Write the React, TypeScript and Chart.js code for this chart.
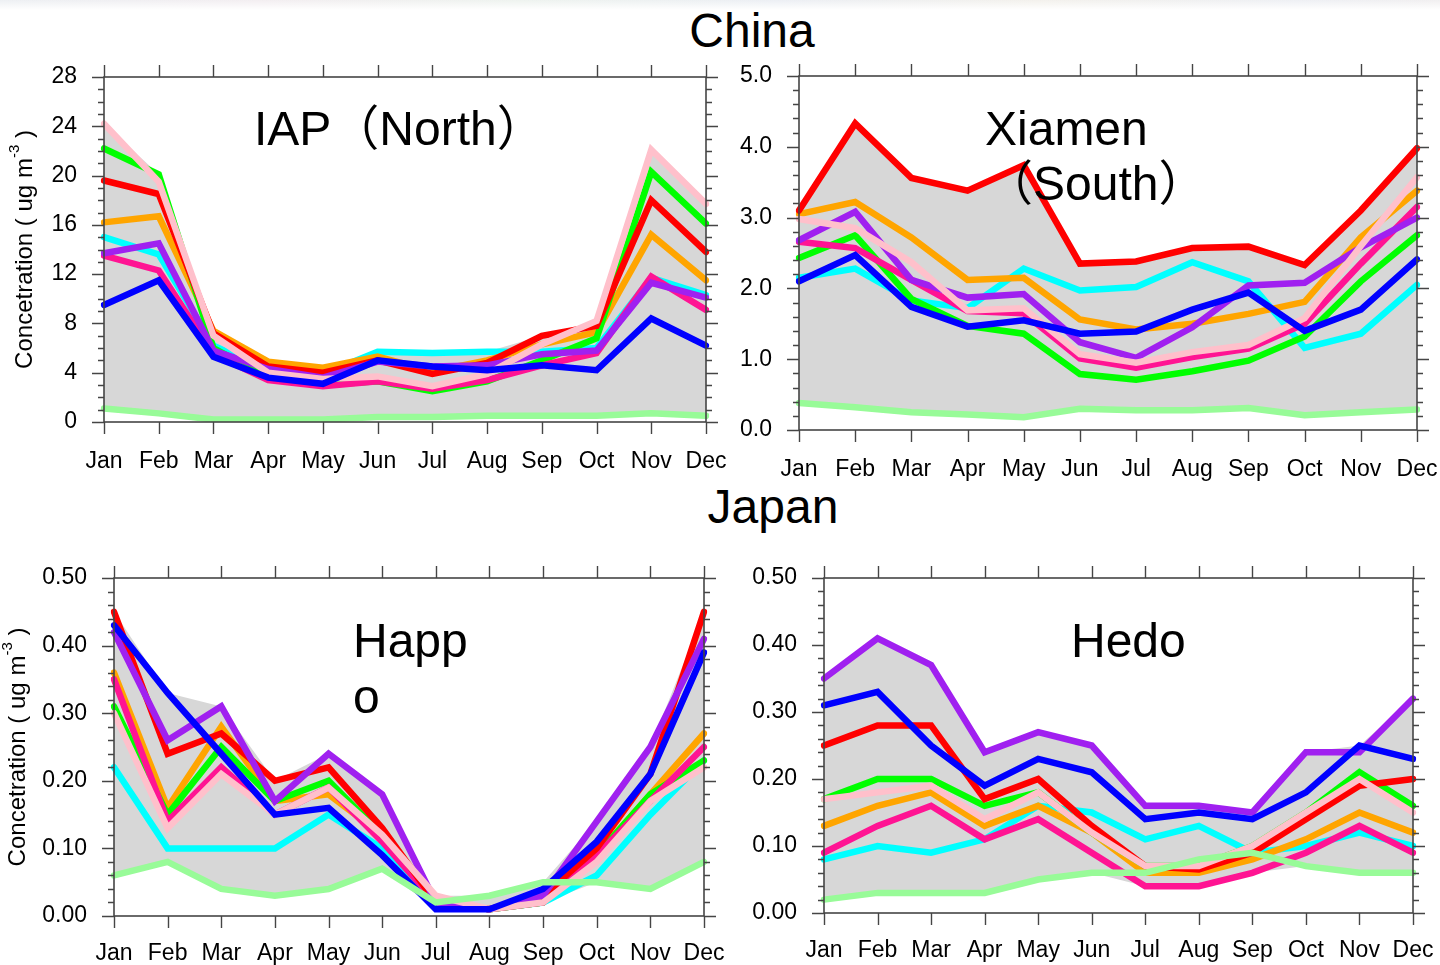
import React, { useEffect, useRef } from "react";
import { Chart, registerables } from "chart.js";

Chart.register(...registerables);

const MONTHS = ["Jan", "Feb", "Mar", "Apr", "May", "Jun", "Jul", "Aug", "Sep", "Oct", "Nov", "Dec"];

// IAP (North), ug m-3
const IAP_RED = [19.6, 18.5, 7.2, 4.5, 4.0, 5.0, 3.9, 4.8, 7.0, 7.8, 18.0, 13.8];
const IAP_GREEN = [22.2, 20.1, 6.0, 3.6, 3.0, 3.3, 2.5, 3.3, 5.0, 6.8, 20.3, 16.1];
const IAP_BLUE = [9.5, 11.5, 5.3, 3.6, 3.1, 5.0, 4.5, 4.2, 4.6, 4.2, 8.4, 6.2];
const IAP_ORANGE = [16.2, 16.7, 7.4, 4.9, 4.4, 5.3, 4.1, 5.0, 6.3, 7.3, 15.2, 11.5];
const IAP_CYAN = [15.0, 13.6, 6.2, 4.2, 3.9, 5.7, 5.6, 5.7, 5.7, 6.0, 11.7, 10.3];
const IAP_PURPLE = [13.7, 14.5, 5.8, 4.3, 3.6, 4.9, 4.5, 4.6, 5.5, 5.8, 11.3, 10.1];
const IAP_MAGENTA = [13.5, 12.3, 5.5, 3.4, 2.9, 3.3, 2.7, 3.4, 4.6, 5.6, 11.8, 9.1];
const IAP_PINK = [24.2, 19.5, 7.0, 4.0, 3.5, 3.7, 2.9, 3.9, 6.3, 8.2, 22.1, 17.7];
const IAP_PALEGREEN = [1.1, 0.7, 0.2, 0.2, 0.2, 0.4, 0.4, 0.5, 0.5, 0.5, 0.7, 0.5];

// Xiamen (South)
const XM_RED = [3.1, 4.33, 3.56, 3.38, 3.74, 2.35, 2.38, 2.57, 2.59, 2.33, 3.1, 3.98];
const XM_GREEN = [2.43, 2.75, 1.85, 1.47, 1.36, 0.79, 0.71, 0.83, 0.98, 1.32, 2.1, 2.75];
const XM_BLUE = [2.1, 2.47, 1.74, 1.46, 1.55, 1.36, 1.39, 1.7, 1.94, 1.4, 1.7, 2.41];
const XM_ORANGE = [3.05, 3.22, 2.72, 2.12, 2.15, 1.56, 1.42, 1.5, 1.64, 1.81, 2.72, 3.38];
const XM_CYAN = [2.15, 2.28, 1.83, 1.72, 2.28, 1.97, 2.02, 2.37, 2.1, 1.16, 1.36, 2.05];
const XM_PURPLE = [2.68, 3.08, 2.12, 1.87, 1.92, 1.24, 1.02, 1.45, 2.04, 2.08, 2.58, 3.0];
const XM_MAGENTA = [2.66, 2.57, 2.12, 1.68, 1.65, 1.01, 0.88, 1.03, 1.15, 1.5, 2.35, 3.15];
const XM_PINK = [2.98, 2.85, 2.37, 1.69, 1.72, 1.07, 0.95, 1.1, 1.2, 1.58, 2.6, 3.57];
const XM_PALEGREEN = [0.38, 0.32, 0.25, 0.22, 0.18, 0.3, 0.28, 0.28, 0.31, 0.21, 0.25, 0.29];

// Happo
const HP_RED = [0.45, 0.24, 0.27, 0.2, 0.22, 0.13, 0.02, 0.01, 0.03, 0.1, 0.21, 0.45];
const HP_GREEN = [0.31, 0.15, 0.25, 0.17, 0.2, 0.12, 0.02, 0.01, 0.02, 0.09, 0.18, 0.23];
const HP_BLUE = [0.43, 0.33, 0.24, 0.15, 0.16, 0.09, 0.01, 0.01, 0.04, 0.11, 0.21, 0.39];
const HP_ORANGE = [0.36, 0.16, 0.28, 0.17, 0.18, 0.12, 0.02, 0.01, 0.02, 0.09, 0.18, 0.27];
const HP_CYAN = [0.22, 0.1, 0.1, 0.1, 0.15, 0.1, 0.02, 0.01, 0.02, 0.06, 0.15, 0.23];
const HP_PURPLE = [0.42, 0.26, 0.31, 0.17, 0.24, 0.18, 0.02, 0.01, 0.03, 0.14, 0.25, 0.41];
const HP_MAGENTA = [0.35, 0.14, 0.22, 0.15, 0.19, 0.11, 0.02, 0.01, 0.02, 0.09, 0.17, 0.25];
const HP_PINK = [0.3, 0.13, 0.21, 0.15, 0.19, 0.12, 0.03, 0.01, 0.02, 0.08, 0.17, 0.22];
const HP_PALEGREEN = [0.06, 0.08, 0.04, 0.03, 0.04, 0.07, 0.02, 0.03, 0.05, 0.05, 0.04, 0.08];

// Hedo
const HD_RED = [0.25, 0.28, 0.28, 0.17, 0.2, 0.13, 0.07, 0.065, 0.09, 0.14, 0.19, 0.2];
const HD_GREEN = [0.17, 0.2, 0.2, 0.16, 0.18, 0.12, 0.07, 0.07, 0.1, 0.15, 0.21, 0.16];
const HD_BLUE = [0.31, 0.33, 0.25, 0.19, 0.23, 0.21, 0.14, 0.15, 0.14, 0.18, 0.25, 0.23];
const HD_ORANGE = [0.13, 0.16, 0.18, 0.13, 0.16, 0.12, 0.06, 0.06, 0.08, 0.11, 0.15, 0.12];
const HD_CYAN = [0.08, 0.1, 0.09, 0.11, 0.16, 0.15, 0.11, 0.13, 0.09, 0.1, 0.12, 0.1];
const HD_PURPLE = [0.35, 0.41, 0.37, 0.24, 0.27, 0.25, 0.16, 0.16, 0.15, 0.24, 0.24, 0.32];
const HD_MAGENTA = [0.09, 0.13, 0.16, 0.11, 0.14, 0.09, 0.04, 0.04, 0.06, 0.09, 0.13, 0.09];
const HD_PINK = [0.17, 0.18, 0.19, 0.14, 0.18, 0.12, 0.07, 0.07, 0.1, 0.15, 0.2, 0.15];
const HD_PALEGREEN = [0.02, 0.03, 0.03, 0.03, 0.05, 0.06, 0.06, 0.08, 0.09, 0.07, 0.06, 0.06];

// Line colours, and the stacking order (first = bottom, last = top)
const COLORS = {
  red: "#ff0000",
  green: "#00ff00",
  blue: "#0000ff",
  orange: "#ffa500",
  cyan: "#00ffff",
  purple: "#a020f0",
  magenta: "#ff1493",
  pink: "#ffc0cb",
  palegreen: "#98fb98",
};
const STACK = ["cyan", "orange", "green", "magenta", "red", "purple", "pink", "blue", "palegreen"] as const;

type Key = (typeof STACK)[number];

const FONT = '"Liberation Sans", Arial, Helvetica, sans-serif';
const TITLE_FONT = '"Liberation Sans", Arial, "Noto Sans CJK SC", sans-serif';

type PanelSpec = {
  box: { left: number; top: number; width: number; height: number };
  plot: { left: number; top: number; right: number; bottom: number };
  yMax: number;
  yStep: number;
  yMinor: number;
  decimals: number;
  series: Record<Key, number[]>;
  title: { lines: string[]; x: number; y: number; gap: number };
  yTitleX?: number;
  xPad: number;
};

const PANELS: PanelSpec[] = [
  {
    box: { left: 0, top: 56, width: 740, height: 430 },
    plot: { left: 104, top: 77, right: 706, bottom: 422 },
    yMax: 28, yStep: 4, yMinor: 1, decimals: 0,
    series: { red: IAP_RED, green: IAP_GREEN, blue: IAP_BLUE, orange: IAP_ORANGE, cyan: IAP_CYAN, purple: IAP_PURPLE, magenta: IAP_MAGENTA, pink: IAP_PINK, palegreen: IAP_PALEGREEN },
    title: { lines: ["IAP（North）"], x: 254, y: 145, gap: 56 },
    yTitleX: 25,
    xPad: 26,
  },
  {
    box: { left: 730, top: 56, width: 710, height: 440 },
    plot: { left: 799, top: 76, right: 1417, bottom: 430 },
    yMax: 5, yStep: 1, yMinor: 0.2, decimals: 1,
    series: { red: XM_RED, green: XM_GREEN, blue: XM_BLUE, orange: XM_ORANGE, cyan: XM_CYAN, purple: XM_PURPLE, magenta: XM_MAGENTA, pink: XM_PINK, palegreen: XM_PALEGREEN },
    title: { lines: ["Xiamen", "（South）"], x: 985, y: 145, gap: 55 },
    xPad: 26,
  },
  {
    box: { left: 0, top: 555, width: 730, height: 410 },
    plot: { left: 114, top: 578, right: 704, bottom: 916 },
    yMax: 0.5, yStep: 0.1, yMinor: 0.02, decimals: 2,
    series: { red: HP_RED, green: HP_GREEN, blue: HP_BLUE, orange: HP_ORANGE, cyan: HP_CYAN, purple: HP_PURPLE, magenta: HP_MAGENTA, pink: HP_PINK, palegreen: HP_PALEGREEN },
    title: { lines: ["Happ", "o"], x: 353, y: 657, gap: 56 },
    yTitleX: 18,
    xPad: 24,
  },
  {
    box: { left: 730, top: 555, width: 710, height: 410 },
    plot: { left: 824, top: 578, right: 1413, bottom: 913 },
    yMax: 0.5, yStep: 0.1, yMinor: 0.02, decimals: 2,
    series: { red: HD_RED, green: HD_GREEN, blue: HD_BLUE, orange: HD_ORANGE, cyan: HD_CYAN, purple: HD_PURPLE, magenta: HD_MAGENTA, pink: HD_PINK, palegreen: HD_PALEGREEN },
    title: { lines: ["Hedo"], x: 1071, y: 657, gap: 56 },
    xPad: 24,
  },
];

function makeFramePlugin(p: PanelSpec) {
  return {
    id: "frameAndLabels",
    afterDatasetsDraw(chart: any) {
      const { ctx, chartArea: a, scales } = chart;
      const xs = scales.x;
      const ys = scales.y;
      ctx.save();
      // plot frame
      ctx.strokeStyle = "#454545";
      ctx.lineWidth = 1.6;
      ctx.strokeRect(a.left, a.top, a.right - a.left, a.bottom - a.top);
      // outward tick marks, major and minor on the value axes
      ctx.beginPath();
      const nMinor = Math.round(p.yMax / p.yMinor);
      const per = Math.round(p.yStep / p.yMinor);
      for (let i = 0; i <= nMinor; i++) {
        const py = Math.round(ys.getPixelForValue(i * p.yMinor)) + 0.5;
        const len = i % per === 0 ? 12 : 6;
        ctx.moveTo(a.left - len, py);
        ctx.lineTo(a.left, py);
        ctx.moveTo(a.right, py);
        ctx.lineTo(a.right + len, py);
      }
      for (let i = 0; i < MONTHS.length; i++) {
        const px = Math.round(xs.getPixelForValue(i)) + 0.5;
        ctx.moveTo(px, a.top - 12);
        ctx.lineTo(px, a.top);
        ctx.moveTo(px, a.bottom);
        ctx.lineTo(px, a.bottom + 12);
      }
      ctx.lineWidth = 1.4;
      ctx.stroke();

      // station name
      ctx.fillStyle = "#000";
      ctx.font = `48px ${TITLE_FONT}`;
      ctx.textAlign = "left";
      ctx.textBaseline = "alphabetic";
      p.title.lines.forEach((line, i) => {
        ctx.fillText(line, p.title.x - p.box.left, p.title.y - p.box.top + i * p.title.gap);
      });

      // value-axis title with a superscript exponent
      if (p.yTitleX !== undefined) {
        const cx = p.yTitleX - p.box.left;
        const cy = (a.top + a.bottom) / 2;
        const main = `24px ${FONT}`;
        const sup = `15px ${FONT}`;
        const t1 = "Concetration ( ug m";
        const t2 = "-3";
        const t3 = " )";
        ctx.font = main;
        const w1 = ctx.measureText(t1).width;
        const w3 = ctx.measureText(t3).width;
        ctx.font = sup;
        const w2 = ctx.measureText(t2).width;
        const total = w1 + w2 + w3;
        ctx.translate(cx, cy);
        ctx.rotate(-Math.PI / 2);
        ctx.textBaseline = "middle";
        let x0 = -total / 2;
        ctx.font = main;
        ctx.fillText(t1, x0, 0);
        x0 += w1;
        ctx.font = sup;
        ctx.fillText(t2, x0, -10);
        x0 += w2;
        ctx.font = main;
        ctx.fillText(t3, x0, 0);
      }
      ctx.restore();
    },
  };
}

function Panel({ spec }: { spec: PanelSpec }) {
  const ref = useRef<HTMLCanvasElement | null>(null);

  useEffect(() => {
    if (!ref.current) return;
    const p = spec;
    const lows = MONTHS.map((_, i) => Math.min(...STACK.map((k) => p.series[k][i])));
    const highs = MONTHS.map((_, i) => Math.max(...STACK.map((k) => p.series[k][i])));

    const lineSets = STACK.map((k, idx) => ({
      label: k,
      data: p.series[k],
      borderColor: COLORS[k],
      backgroundColor: COLORS[k],
      borderWidth: 6.5,
      pointRadius: 0,
      tension: 0,
      fill: false,
      borderJoinStyle: "miter" as const,
      borderCapStyle: "round" as const,
      order: 100 - idx,
    }));

    const chart = new Chart(ref.current, {
      type: "line",
      data: {
        labels: MONTHS,
        datasets: [
          {
            label: "range-low",
            data: lows,
            borderColor: "rgba(0,0,0,0)",
            borderWidth: 0,
            pointRadius: 0,
            tension: 0,
            fill: false,
            order: 200,
          },
          {
            label: "range-high",
            data: highs,
            borderColor: "rgba(0,0,0,0)",
            backgroundColor: "#d7d7d7",
            borderWidth: 0,
            pointRadius: 0,
            tension: 0,
            fill: "-1",
            order: 201,
          },
          ...lineSets,
        ],
      },
      options: {
        animation: false,
        responsive: false,
        maintainAspectRatio: false,
        events: [],
        layout: {
          padding: {
            left: 0,
            top: p.plot.top - p.box.top,
            right: p.box.left + p.box.width - p.plot.right,
            bottom: 0,
          },
        },
        plugins: {
          legend: { display: false },
          tooltip: { enabled: false },
          title: { display: false },
          filler: { drawTime: "beforeDatasetsDraw", propagate: false },
        },
        scales: {
          x: {
            type: "category",
            offset: false,
            grid: { display: false, drawTicks: false },
            border: { display: false },
            ticks: {
              autoSkip: false,
              maxRotation: 0,
              minRotation: 0,
              padding: p.xPad,
              color: "#000",
              font: { family: FONT, size: 23 },
            },
            afterFit: (s: any) => {
              s.height = p.box.top + p.box.height - p.plot.bottom;
              s.paddingLeft = 0;
              s.paddingRight = 0;
              s.paddingTop = 0;
              s.paddingBottom = 0;
            },
          },
          y: {
            type: "linear",
            min: 0,
            max: p.yMax,
            grid: { display: false, drawTicks: false },
            border: { display: false },
            ticks: {
              stepSize: p.yStep,
              padding: 27,
              color: "#000",
              font: { family: FONT, size: 23 },
              callback: (v: any) => Number(v).toFixed(p.decimals),
            },
            afterFit: (s: any) => {
              s.width = p.plot.left - p.box.left;
              s.paddingLeft = 0;
              s.paddingRight = 0;
              s.paddingTop = 0;
              s.paddingBottom = 0;
            },
          },
        },
      },
      plugins: [makeFramePlugin(p)],
    } as any);

    return () => chart.destroy();
  }, [spec]);

  const b = spec.box;
  return (
    <canvas
      ref={ref}
      width={b.width}
      height={b.height}
      style={{ position: "absolute", left: b.left, top: b.top, width: b.width, height: b.height }}
    />
  );
}

const headingStyle: React.CSSProperties = {
  position: "absolute",
  fontFamily: FONT,
  fontSize: 48,
  lineHeight: "48px",
  color: "#000",
  whiteSpace: "nowrap",
  transform: "translateX(-50%)",
};

export default function App() {
  return (
    <div
      style={{
        position: "absolute",
        left: 0,
        top: 0,
        width: 1440,
        height: 965,
        overflow: "hidden",
        background: "#fff",
      }}
    >
      <div
        style={{
          position: "absolute",
          left: 0,
          top: 0,
          width: 1440,
          height: 10,
          background:
            "linear-gradient(180deg, rgba(255,255,255,0) 0%, #fff 100%), linear-gradient(90deg, #edf0f3 0%, #f3eef1 18%, #eef3ef 36%, #eceff4 54%, #f3f1ec 72%, #eef0f4 90%, #f1eff0 100%)",
        }}
      />
      <div style={{ ...headingStyle, left: 752, top: 7 }}>China</div>
      <div style={{ ...headingStyle, left: 773, top: 483 }}>Japan</div>
      {PANELS.map((p, i) => (
        <Panel key={i} spec={p} />
      ))}
    </div>
  );
}
